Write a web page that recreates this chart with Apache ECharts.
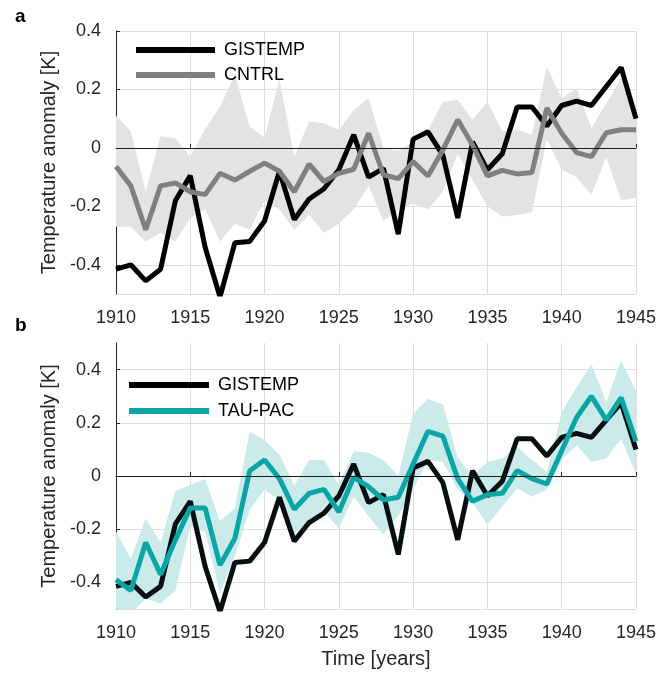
<!DOCTYPE html>
<html>
<head>
<meta charset="utf-8">
<script src="https://cdn.jsdelivr.net/npm/echarts@6/dist/echarts.min.js"></script>
<style>
  html, body { margin: 0; padding: 0; background: #fff; }
  #main { width: 659px; height: 673px; }
</style>
</head>
<body>
<div id="main"></div>
<script>
var years = [];
for (var y = 1910; y <= 1945; y++) years.push(y);

// observations (same in both panels)
var gistemp = [-0.415, -0.40, -0.455, -0.415, -0.18, -0.095, -0.34, -0.51, -0.325, -0.32,
  -0.25, -0.08, -0.245, -0.175, -0.14, -0.075, 0.045, -0.10, -0.07, -0.295,
  0.03, 0.055, -0.025, -0.24, 0.02, -0.075, -0.02, 0.14, 0.14, 0.075,
  0.145, 0.16, 0.145, 0.21, 0.275, 0.10];

// panel a: control ensemble mean and spread
var cntrl = [-0.064, -0.13, -0.28, -0.13, -0.12, -0.15, -0.16, -0.087, -0.11, -0.08,
  -0.052, -0.08, -0.15, -0.056, -0.115, -0.087, -0.073, 0.05, -0.092, -0.105,
  -0.047, -0.096, -0.007, 0.096, 0.01, -0.096, -0.077, -0.089, -0.084, 0.136,
  0.05, -0.016, -0.03, 0.052, 0.062, 0.062];
var cntrlHi = [0.11, 0.056, -0.15, 0.04, 0.033, -0.03, 0.065, 0.14, 0.25, 0.073,
  0.035, 0.235, -0.03, 0.09, 0.084, 0.062, 0.13, 0.17, 0.0, -0.01,
  0.02, 0.06, 0.158, 0.164, 0.096, 0.158, 0.056, 0.062, 0.044, 0.278,
  0.17, 0.204, 0.067, 0.153, 0.238, 0.141];
var cntrlLo = [-0.27, -0.27, -0.32, -0.29, -0.32, -0.24, -0.21, -0.32, -0.26, -0.28,
  -0.18, -0.21, -0.28, -0.23, -0.29, -0.26, -0.21, -0.13, -0.25, -0.21,
  -0.19, -0.21, -0.15, -0.02, -0.11, -0.20, -0.235, -0.23, -0.22, 0.03,
  -0.075, -0.10, -0.16, -0.03, -0.18, -0.17];

// panel b: TAU-PAC ensemble mean and spread
var taupac = [-0.39, -0.43, -0.25, -0.37, -0.24, -0.12, -0.12, -0.335, -0.235, 0.02,
  0.06, -0.01, -0.125, -0.065, -0.05, -0.135, -0.005, -0.04, -0.09, -0.08,
  0.045, 0.168, 0.15, -0.01, -0.095, -0.07, -0.065, 0.02, -0.01, -0.03,
  0.095, 0.22, 0.30, 0.21, 0.295, 0.13];
var taupacHi = [-0.21, -0.31, -0.16, -0.25, -0.055, -0.034, -0.011, -0.17, -0.12, 0.166,
  0.135, 0.08, -0.035, 0.06, 0.06, -0.035, 0.093, 0.087, 0.06, 0.0,
  0.234, 0.29, 0.27, 0.07, 0.0, 0.054, 0.066, 0.11, 0.06, 0.016,
  0.24, 0.334, 0.42, 0.278, 0.434, 0.32];
var taupacLo = [-0.52, -0.52, -0.46, -0.48, -0.43, -0.19, -0.21, -0.44, -0.30, -0.127,
  -0.052, -0.09, -0.214, -0.177, -0.133, -0.196, -0.077, -0.15, -0.22, -0.15,
  -0.05, 0.06, 0.054, -0.05, -0.10, -0.183, -0.115, -0.046, -0.077, -0.052,
  0.06, 0.116, 0.054, 0.066, 0.14, 0.01];

var yRangeA = [-0.5, 0.4];
var yRangeB = [-0.5, 0.5];

function pairs(arr) {
  return arr.map(function (v, i) { return [years[i], v]; });
}

var FONT = 'Liberation Sans';
var gridCol = '#dedede';
var axisCol = '#262626';

function xAxisOpt(gi, withName) {
  return {
    type: 'value', gridIndex: gi, min: 1910, max: 1945, interval: 5,
    name: withName ? 'Time [years]' : '',
    nameLocation: 'middle', nameGap: 40,
    nameTextStyle: { fontFamily: FONT, fontSize: 20, color: axisCol },
    axisLine: { lineStyle: { color: axisCol, width: 1 } },
    axisTick: { inside: true, length: 4, lineStyle: { color: axisCol } },
    axisLabel: { fontFamily: FONT, fontSize: 18, color: axisCol, margin: 15,
      formatter: function (v) { return String(v); } },
    splitLine: { show: true, lineStyle: { color: gridCol, width: 1 } }
  };
}
function yAxisOpt(gi, ext) {
  return {
    type: 'value', gridIndex: gi, min: ext[0], max: ext[1], splitNumber: 5,
    name: 'Temperature anomaly [K]',
    nameLocation: 'middle', nameGap: 53,
    nameTextStyle: { fontFamily: FONT, fontSize: 20, color: axisCol },
    axisLine: { show: true, lineStyle: { color: axisCol, width: 1 } },
    axisTick: { show: true, inside: true, length: 4, lineStyle: { color: axisCol } },
    axisLabel: { fontFamily: FONT, fontSize: 18, color: axisCol, margin: 15,
      showMinLabel: false, showMaxLabel: ext[1] < 0.45,
      formatter: function (v) { return v === 0 ? '0' : String(Math.round(v * 10) / 10); } },
    splitLine: { show: true, showMaxLine: ext[1] < 0.45, lineStyle: { color: gridCol, width: 1 } }
  };
}

// shaded spread drawn as one polygon through the axis scales
function band(gi, lo, hi, color) {
  return {
    type: 'custom', xAxisIndex: gi, yAxisIndex: gi, data: pairs(hi), clip: true,
    silent: true, z: 1,
    renderItem: function (params, api) {
      if (params.dataIndex !== 0) return;
      var pts = [];
      for (var i = 0; i < years.length; i++) pts.push(api.coord([years[i], hi[i]]));
      for (var j = years.length - 1; j >= 0; j--) pts.push(api.coord([years[j], lo[j]]));
      return { type: 'polygon', shape: { points: pts }, style: { fill: color } };
    }
  };
}
function line(name, gi, arr, color, z, zero) {
  var s = { name: name, type: 'line', xAxisIndex: gi, yAxisIndex: gi, data: pairs(arr),
    symbol: 'none', lineStyle: { color: color, width: 5 }, itemStyle: { color: color }, z: z };
  if (zero) {
    s.markLine = { silent: true, symbol: 'none', label: { show: false },
      lineStyle: { color: '#1a1a1a', width: 1, type: 'solid' }, data: [{ yAxis: 0 }] };
  }
  return s;
}

var chart = echarts.init(document.getElementById('main'));
var option = {
  backgroundColor: '#fff',
  animation: false,
  title: [
    { text: 'a', left: 10, top: 2, textStyle: { fontFamily: FONT, fontSize: 19, fontWeight: 'bold', color: '#000' } },
    { text: 'b', left: 10, top: 311, textStyle: { fontFamily: FONT, fontSize: 19, fontWeight: 'bold', color: '#000' } }
  ],
  grid: [
    { left: 116, right: 20, top: 31, height: 263 },
    { left: 116, right: 20, top: 343, height: 266 }
  ],
  legend: [
    { data: ['GISTEMP', 'CNTRL'], orient: 'vertical', left: 131, top: 36, itemGap: 7,
      icon: 'rect', itemWidth: 79, itemHeight: 6, selectedMode: false,
      textStyle: { fontFamily: FONT, fontSize: 18, color: '#000', padding: [0, 0, 0, 4] } },
    { data: ['GISTEMP', 'TAU-PAC'], orient: 'vertical', left: 124, top: 371, itemGap: 8,
      icon: 'rect', itemWidth: 80, itemHeight: 6, selectedMode: false,
      textStyle: { fontFamily: FONT, fontSize: 18, color: '#000', padding: [0, 0, 0, 4] } }
  ],
  xAxis: [xAxisOpt(0, false), xAxisOpt(1, true)],
  yAxis: [yAxisOpt(0, yRangeA), yAxisOpt(1, yRangeB)],
  series: [
    band(0, cntrlLo, cntrlHi, '#e3e3e3'),
    line('GISTEMP', 0, gistemp, '#000000', 3, true),
    line('CNTRL', 0, cntrl, '#808080', 4, false),
    band(1, taupacLo, taupacHi, '#cbeaea'),
    line('GISTEMP', 1, gistemp, '#050f0f', 3, true),
    line('TAU-PAC', 1, taupac, '#0aa6a6', 4, false)
  ]
};
chart.setOption(option);
</script>
</body>
</html>
